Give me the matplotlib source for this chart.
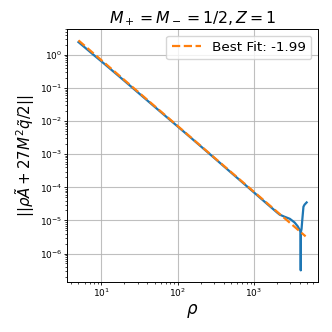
import numpy as np
import matplotlib
matplotlib.use("Agg")
import matplotlib.pyplot as plt

# residual norm vs rho
rho = [5.0, 6, 8, 10, 15, 20, 30, 50, 70, 100, 150, 200, 300, 500, 700,
       1000, 1500, 2000, 2170, 2500, 2950, 3400, 3750, 4000, 4080, 4100,
       4120, 4200, 4300, 4450, 4600, 4900]
resid = [2.45, 1.72, 0.98, 0.64, 0.29, 0.165, 0.074, 0.027, 0.0139,
         6.9e-3, 3.1e-3, 1.75e-3, 7.8e-4, 2.8e-4, 1.43e-4,
         7.0e-5, 3.1e-5, 1.75e-5, 1.5e-5, 1.3e-5, 1.12e-5, 8.7e-6, 6.6e-6,
         5.0e-6, 4.6e-6, 3.1e-7, 4.5e-6, 5.5e-6, 1.07e-5, 2.6e-5, 3.0e-5, 3.5e-5]

# fitted power law (two end points of the dashed line)
fit_slope = -1.99
fit_rho = [5.0, 4750]
fit_vals = [2.76, 3.3e-6]

fig = plt.figure(figsize=(3.32, 3.32), dpi=100)
ax = fig.add_axes([0.202, 0.151, 0.756, 0.762])

ax.plot(rho, resid, color="C0", lw=1.6)
ax.plot(fit_rho, fit_vals, "--", color="C1", lw=1.6, label=f"Best Fit: {fit_slope:.2f}")
ax.set_xscale("log")
ax.set_yscale("log")
ax.grid(True, which="major", color="#b0b0b0", lw=0.8, alpha=0.8)

ax.set_title(r"$M_+ = M_- = 1/2, Z = 1$", fontsize=11.3, pad=4)
ax.set_xlabel(r"$\rho$", fontsize=12, labelpad=2)
ax.set_ylabel(r"$||\rho\tilde{A} + 27M^2\tilde{q}/2||$", fontsize=10.8, labelpad=2)
ax.tick_params(which="major", labelsize=6.5, length=2, width=0.6, pad=1.5)
ax.tick_params(which="minor", length=1.2, width=0.5)
for s in ax.spines.values():
    s.set_linewidth(0.7)

ax.legend(loc="upper right", fontsize=9.7, handlelength=2.2, borderpad=0.4,
          handletextpad=0.8, framealpha=0.8)

fig.savefig("out.png", dpi=100)
